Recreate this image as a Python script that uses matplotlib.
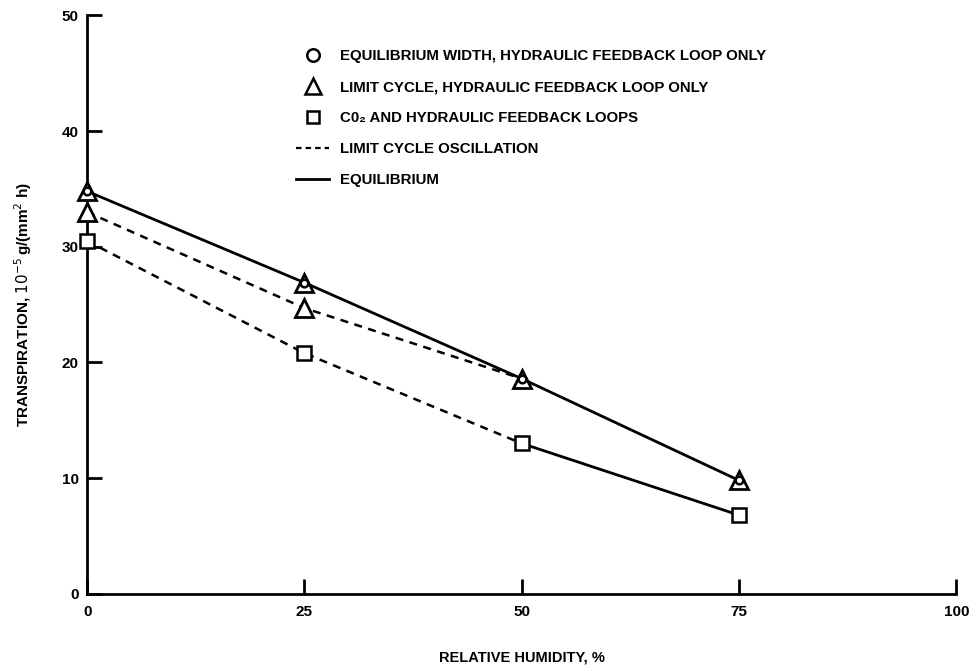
import matplotlib.pyplot as plt
from matplotlib.lines import Line2D

plt.rcParams['font.family'] = ['Liberation Sans', 'DejaVu Sans']

# relative humidity, %
rh = [0, 25, 50, 75]

# equilibrium width, hydraulic feedback loop only (circles, solid line)
eq_hyd = [34.8, 26.9, 18.6, 9.8]

# limit cycle, hydraulic feedback loop only (triangles)
lc_rh = [0, 0, 25, 25, 50, 75]
lc_val = [34.8, 33.0, 26.9, 24.7, 18.6, 9.8]
# dashed oscillation line for the limit cycle
lc_line_rh = [0, 25, 50]
lc_line_val = [33.0, 24.7, 18.6]

# CO2 and hydraulic feedback loops (squares)
co2 = [30.5, 20.8, 13.0, 6.8]

fig = plt.figure(figsize=(9.79, 6.71), dpi=100)
ax = fig.add_axes([0.089, 0.115, 0.888, 0.862])

lw = 2.0
dash = (0, (3.2, 2.6))

ax.plot(rh, eq_hyd, color='black', lw=lw, zorder=2, clip_on=False)
ax.plot(lc_line_rh, lc_line_val, color='black', lw=1.8, linestyle=dash, zorder=2, clip_on=False)
ax.plot(rh[:3], co2[:3], color='black', lw=1.8, linestyle=dash, zorder=2, clip_on=False)
ax.plot(rh[2:], co2[2:], color='black', lw=lw, zorder=2, clip_on=False)

ax.plot(lc_rh, lc_val, linestyle='none', marker='^', markersize=13, clip_on=False,
        markerfacecolor='white', markeredgecolor='black', markeredgewidth=2, zorder=3)
ax.plot(rh, eq_hyd, linestyle='none', marker='o', markersize=5.5, clip_on=False,
        markerfacecolor='white', markeredgecolor='black', markeredgewidth=1.8, zorder=4)
ax.plot(rh, co2, linestyle='none', marker='s', markersize=10, clip_on=False,
        markerfacecolor='white', markeredgecolor='black', markeredgewidth=1.8, zorder=3)

ax.set_xlim(0, 100)
ax.set_ylim(0, 50)
ax.set_xticks([0, 25, 50, 75, 100])
ax.set_yticks([0, 10, 20, 30, 40, 50])
for lab in ax.get_xticklabels() + ax.get_yticklabels():
    lab.set_fontweight('bold')
ax.tick_params(direction='in', length=11, width=2, labelsize=11, pad=6)
ax.tick_params(axis='x', pad=8)
for s in ['top', 'right']:
    ax.spines[s].set_visible(False)
for s in ['left', 'bottom']:
    ax.spines[s].set_linewidth(2)

ax.set_xlabel('RELATIVE HUMIDITY, %', fontsize=10.5, fontweight='bold', labelpad=23)
ax.set_ylabel(r'TRANSPIRATION, $10^{-5}\,$g/(mm$^2$ h)', fontsize=11,
              fontweight='bold', labelpad=20)

handles = [
    Line2D([], [], linestyle='none', marker='o', markersize=9,
           markerfacecolor='white', markeredgecolor='black', markeredgewidth=1.8),
    Line2D([], [], linestyle='none', marker='^', markersize=12,
           markerfacecolor='white', markeredgecolor='black', markeredgewidth=1.8),
    Line2D([], [], linestyle='none', marker='s', markersize=9,
           markerfacecolor='white', markeredgecolor='black', markeredgewidth=1.8),
    Line2D([], [], color='black', lw=1.6, linestyle=(0, (2.5, 1.8))),
    Line2D([], [], color='black', lw=2),
]
labels = [
    'EQUILIBRIUM WIDTH, HYDRAULIC FEEDBACK LOOP ONLY',
    'LIMIT CYCLE, HYDRAULIC FEEDBACK LOOP ONLY',
    'C0\u2082 AND HYDRAULIC FEEDBACK LOOPS',
    'LIMIT CYCLE OSCILLATION',
    'EQUILIBRIUM',
]
leg = ax.legend(handles, labels, loc='upper left', bbox_to_anchor=(0.225, 0.965),
                frameon=False, handlelength=2.2, handletextpad=0.7,
                labelspacing=1.13, prop={'weight': 'bold', 'size': 10.8})

fig.savefig('out.png', dpi=100)
